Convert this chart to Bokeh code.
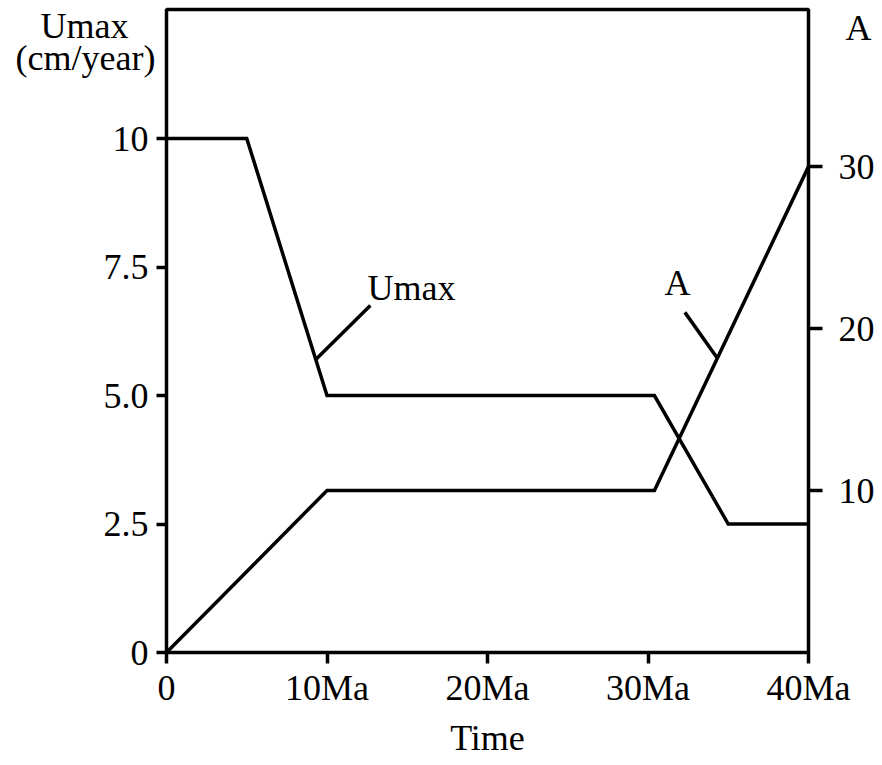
from bokeh.plotting import figure
from bokeh.models import Range1d, LinearAxis, FixedTicker, Label
from bokeh.embed import file_html
from bokeh.resources import INLINE

# Time axis (Ma)
time_ticks = [0, 10, 20, 30, 40]
time_tick_labels = ["0", "10Ma", "20Ma", "30Ma", "40Ma"]

# Umax (cm/year) through time
umax_time = [0, 5, 10, 30.4, 35, 40]
umax_values = [10, 10, 5, 5, 2.5, 2.5]

# A through time
a_time = [0, 10, 30.4, 40]
a_values = [0, 10, 10, 30]

# Axis ticks
umax_ticks = [0, 2.5, 5, 7.5, 10]
umax_tick_labels = ["0", "2.5", "5.0", "7.5", "10"]
a_ticks = [10, 20, 30]

# Curve name labels and their leader lines
umax_name_pos = (15.26, 7.1)
umax_leader = ([9.3, 12.7], [5.7, 6.75])
a_name_pos = (31.84, 22.8)
a_leader = ([34.3, 32.3], [18.2, 21.0])

FONT = "Liberation Serif"
FSIZE = "36px"
LW = 3.5
NBSP = "\u00a0"

p = figure(width=882, height=765, output_backend="svg", toolbar_location=None,
           x_range=Range1d(0, 40), y_range=Range1d(0, 12.51),
           min_border_left=166, min_border_right=74,
           min_border_top=9, min_border_bottom=113)
p.extra_y_ranges = {"A": Range1d(0, 39.7)}

p.grid.visible = False
p.background_fill_color = "white"
p.border_fill_color = "white"
p.outline_line_color = "black"
p.outline_line_width = LW


def style_axis(ax, tick_out, standoff):
    ax.axis_line_color = None
    ax.major_tick_in = 0
    ax.major_tick_out = tick_out
    ax.major_tick_line_width = LW
    ax.minor_tick_line_color = None
    ax.major_label_standoff = standoff
    ax.major_label_text_font = FONT
    ax.major_label_text_font_size = FSIZE
    ax.major_label_text_color = "black"
    ax.axis_label_text_font = FONT
    ax.axis_label_text_font_size = FSIZE
    ax.axis_label_text_font_style = "normal"
    ax.axis_label_text_color = "black"


# Bottom (time) axis
xax = p.xaxis[0]
xax.ticker = FixedTicker(ticks=time_ticks)
xax.major_label_overrides = dict(zip(time_ticks, time_tick_labels))
style_axis(xax, 11, 4)
xax.axis_label = "Time"
xax.axis_label_standoff = 7

# Left (Umax) axis; its title sits beside the top end (the axis label is
# centred on the frame's top edge, so leading blank lines push it down;
# trailing no-break spaces centre the first line over the second)
yax = p.yaxis[0]
yax.ticker = FixedTicker(ticks=umax_ticks)
yax.major_label_overrides = dict(zip(umax_ticks, umax_tick_labels))
style_axis(yax, 10, 8)
yax.axis_label = "\n\nUmax" + NBSP * 3 + "\n(cm/year)"
yax.axis_label_orientation = "horizontal"
yax.axis_label_align = "end"
yax.axis_label_standoff = -55
yax.axis_label_text_line_height = 0.8

# Right (A) axis, title beside the top end
a_axis = LinearAxis(y_range_name="A", ticker=FixedTicker(ticks=a_ticks))
style_axis(a_axis, 14, 16)
a_axis.axis_label = "\nA"
a_axis.axis_label_orientation = "horizontal"
a_axis.axis_label_align = "end"
a_axis.axis_label_standoff = -32
a_axis.axis_label_text_line_height = 0.9
p.add_layout(a_axis, "right")

# Curves
p.line(umax_time, umax_values, line_color="black", line_width=LW, line_join="miter")
p.line(a_time, a_values, y_range_name="A", line_color="black", line_width=LW,
       line_join="miter")

# Leader lines to the curve names
p.line(umax_leader[0], umax_leader[1], line_color="black", line_width=LW)
p.line(a_leader[0], a_leader[1], y_range_name="A", line_color="black", line_width=LW)

p.add_layout(Label(x=umax_name_pos[0], y=umax_name_pos[1], text="Umax",
                   text_align="center", text_baseline="middle",
                   text_font=FONT, text_font_size=FSIZE, text_color="black"))
p.add_layout(Label(x=a_name_pos[0], y=a_name_pos[1], text="A", y_range_name="A",
                   text_align="center", text_baseline="middle",
                   text_font=FONT, text_font_size=FSIZE, text_color="black"))

open("out.html", "w").write(file_html(p, INLINE))
